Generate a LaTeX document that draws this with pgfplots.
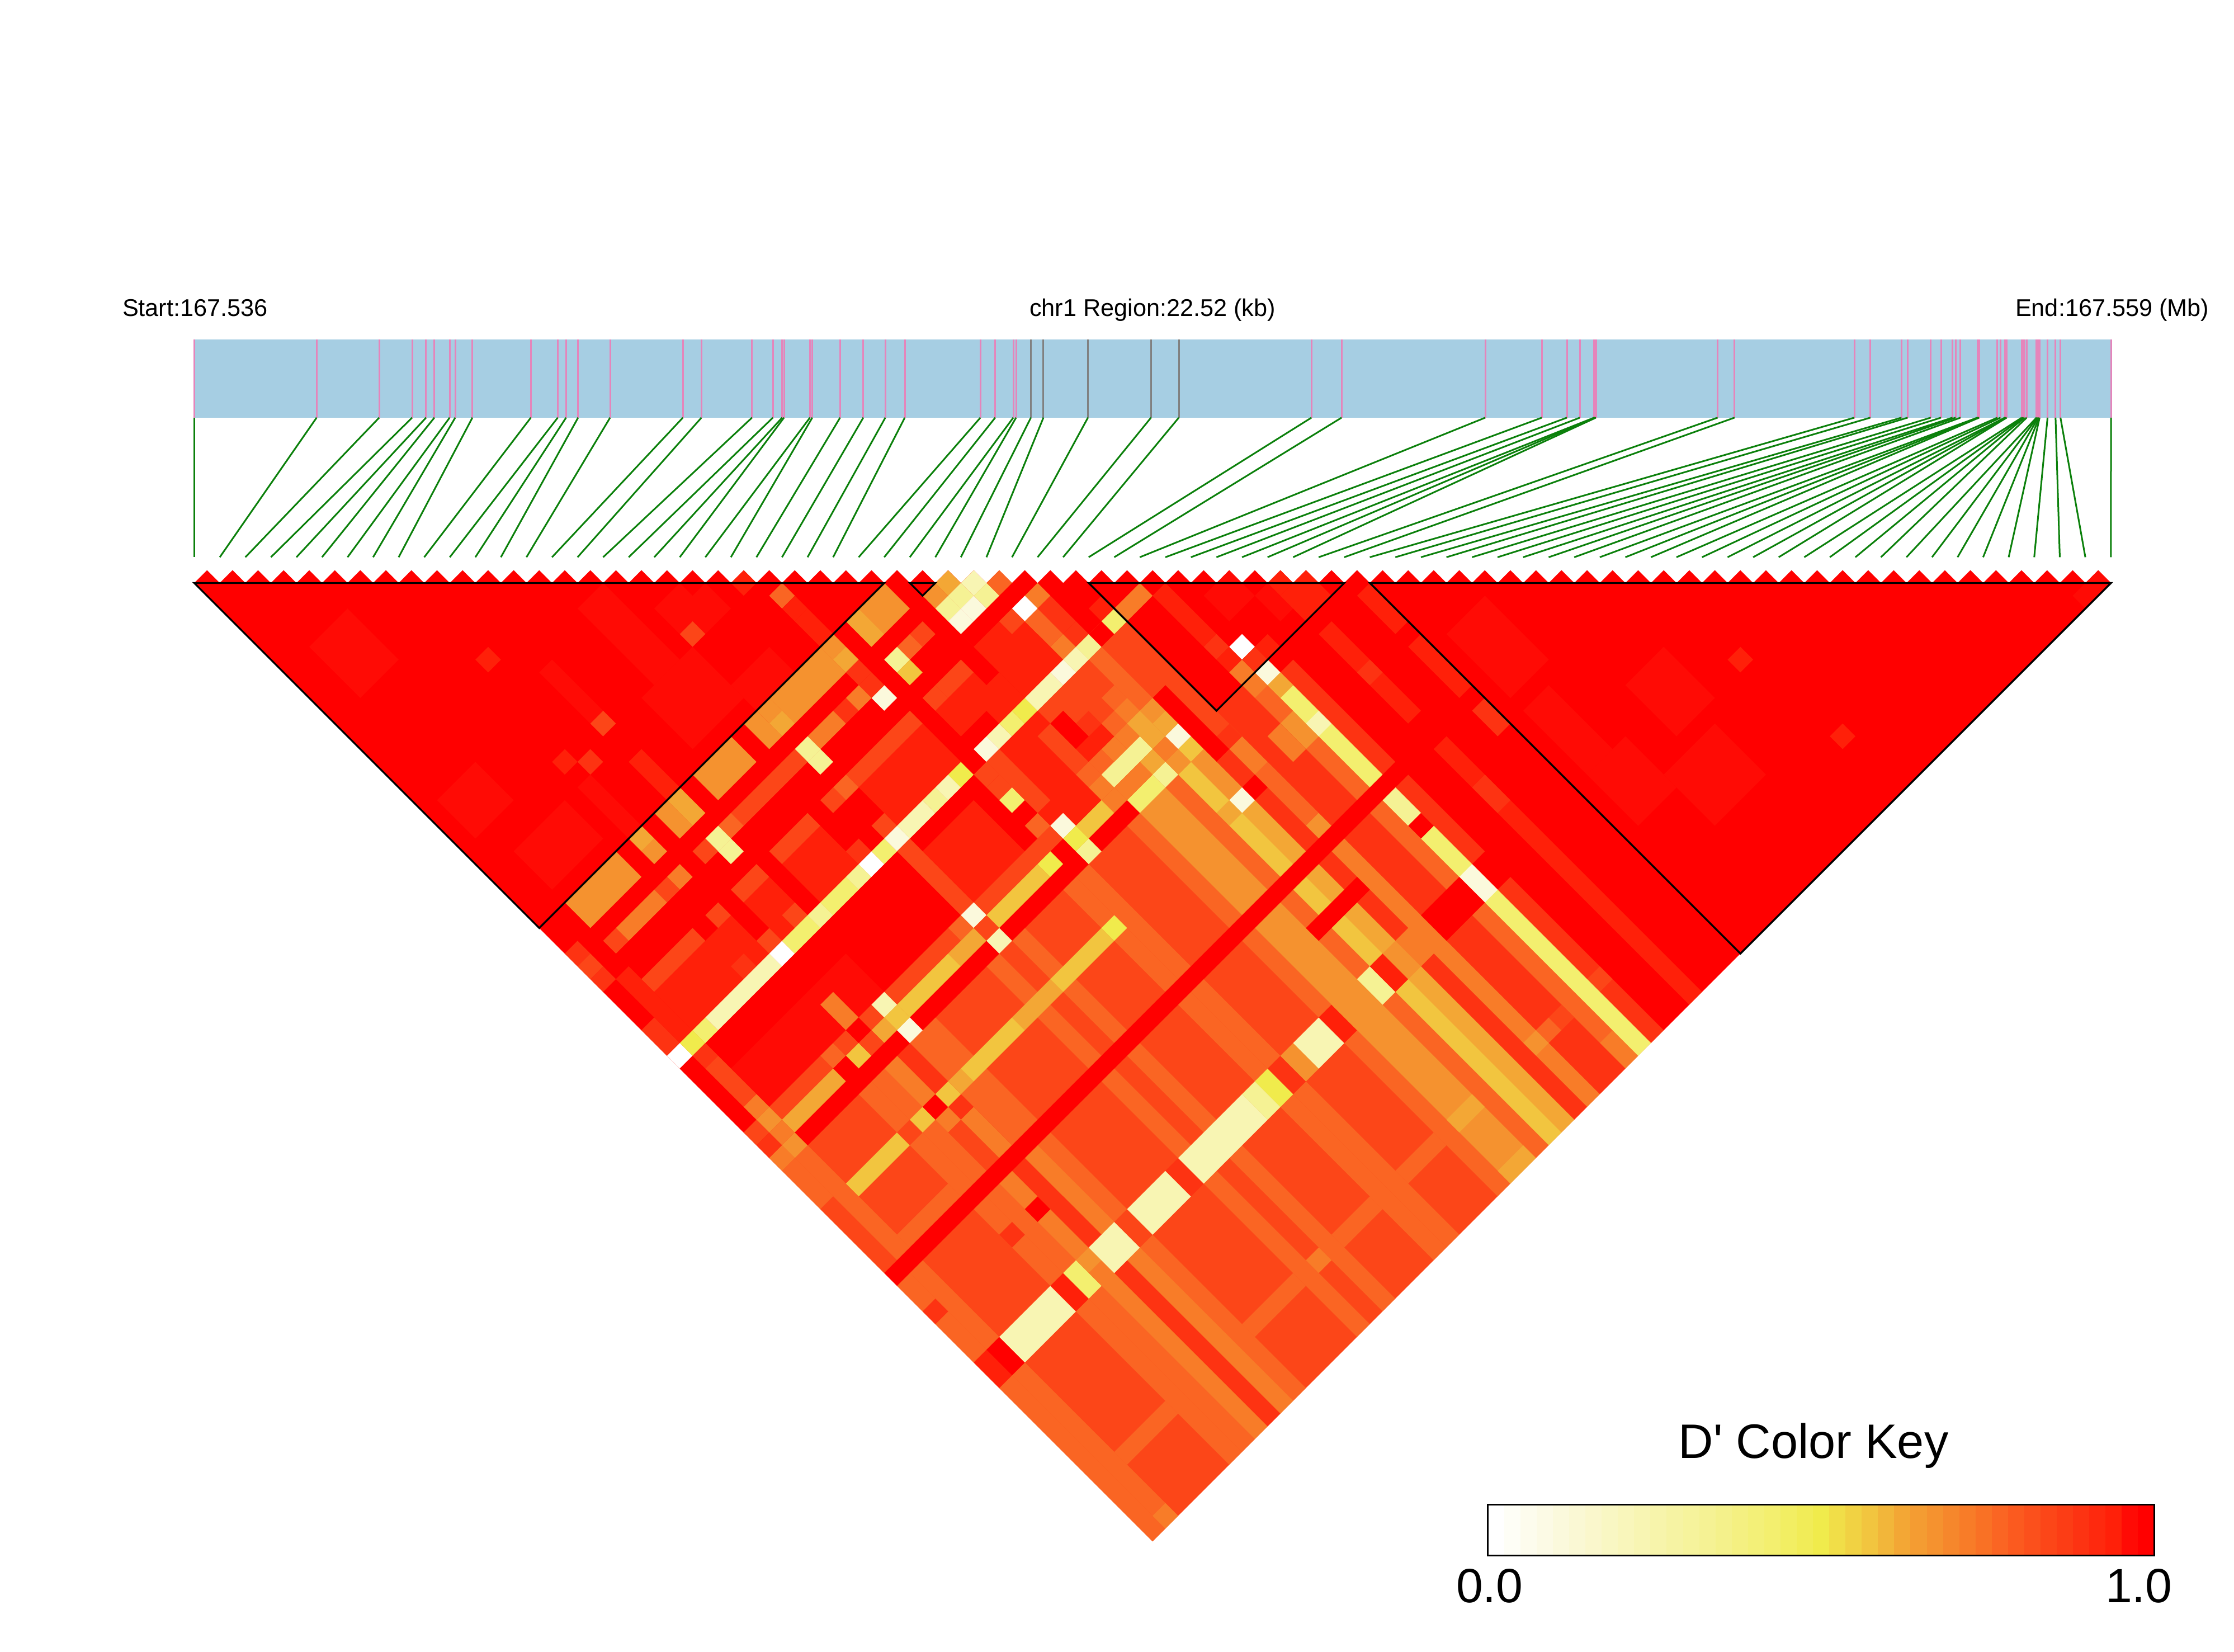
\documentclass[border=0pt]{standalone}
\usepackage{pgfplots}
\pgfplotsset{compat=1.18}
\usepackage{fontspec}
\setmainfont{Liberation Sans}[Ligatures=TeXOff]
\definecolor{Ca}{HTML}{FF0000}\definecolor{Cb}{HTML}{FF0B05}\definecolor{Cc}{HTML}{FF2009}
\definecolor{Cd}{HTML}{FD3312}\definecolor{Ce}{HTML}{FC4618}\definecolor{Cf}{HTML}{FA6523}
\definecolor{Cg}{HTML}{F87C28}\definecolor{Ch}{HTML}{F5922F}\definecolor{Ci}{HTML}{F3A735}
\definecolor{Cj}{HTML}{F2C53F}\definecolor{Ck}{HTML}{F0EB4C}\definecolor{Cl}{HTML}{F3EF6F}
\definecolor{Cm}{HTML}{F5F294}\definecolor{Cn}{HTML}{F8F5B3}\definecolor{Co}{HTML}{FBF9DC}
\definecolor{Cp}{HTML}{FFFFFF}
\definecolor{band}{HTML}{A6CEE3}\definecolor{pinkt}{HTML}{E585BB}\definecolor{greyt}{HTML}{808080}\definecolor{greent}{HTML}{0B800B}
% rectangle of LD cells: i1 i2 j1 j2 colour
\newcommand\Rc[5]{\edef\tmp{\noexpand\addplot[fill=C#5,draw=none] coordinates {(\the\numexpr#2+#3\relax,\the\numexpr#3-#2-1\relax)(\the\numexpr#2+#4+1\relax,\the\numexpr#4-#2\relax)(\the\numexpr#1+#4\relax,\the\numexpr#4-#1+1\relax)(\the\numexpr#1+#3-1\relax,\the\numexpr#3-#1\relax)} -- cycle;}\tmp}
\newcommand\Ce[3]{\Rc{#1}{#1}{#2}{#2}{#3}}
\newcommand\Tr[3]{\edef\tmp{\noexpand\addplot[fill=C#3,draw=none] coordinates {(\the\numexpr2*#1\relax,1)(\the\numexpr2*#2\relax,1)(\the\numexpr#1+#2\relax,\the\numexpr#2-#1+1\relax)} -- cycle;}\tmp}
\newcommand\Bk[2]{\edef\tmp{\noexpand\addplot[black,line width=0.65pt,line join=miter] coordinates {(\the\numexpr2*#1\relax,1)(\the\numexpr2*#2\relax,1)(\the\numexpr#1+#2\relax,\the\numexpr#2-#1+1\relax)} -- cycle;}\tmp}
\newcommand\Sn[3]{\pgfmathsetmacro\tx{347.3+45.7*#3}\edef\tmp{\noexpand\addplot[#1,line width=0.6pt] coordinates {(#2,607.5)(#2,746.8)};\noexpand\addplot[greent,line width=0.6pt] coordinates {(#2,746.8)(\tx,996.4)};}\tmp}
\newcommand\Ke[2]{\pgfmathsetmacro\xa{2660.6+29.07*#1}\pgfmathsetmacro\xb{2660.6+29.07*(#1+1)}\edef\tmp{\noexpand\addplot[fill=#2,draw=none] coordinates {(\xa,2690.7)(\xb,2690.7)(\xb,2781)(\xa,2781)} -- cycle;}\tmp}
\begin{document}
\begin{tikzpicture}[x=1pt,y=1pt]
\path[use as bounding box] (0,0) rectangle (799pt,590.6pt);
\begin{axis}[at={(0,0)},anchor=south west,scale only axis,width=799pt,height=590.6pt,hide axis,
 xmin=-15.199,xmax=159.63,ymin=-44.62,ymax=84.61,y dir=reverse,clip=false]
\Tr{0}{75}{e}
\pgfplotsinvokeforeach{0,...,74}{\pgfmathtruncatemacro\qq{#1+1}\Rc{#1}{#1}{\qq}{\qq}{a}}
\Tr{0}{27}{a}\Rc{0}{27}{28}{46}{a}\Tr{28}{37}{a}\Tr{35}{45}{a}\Rc{28}{34}{38}{46}{e}\Tr{46}{75}{a}\Rc{39}{45}{46}{75}{a}
\Ce{29}{30}{i}\Ce{30}{31}{n}\Ce{31}{32}{f}\Ce{42}{43}{c}
% block 1 patches
\Rc{14}{15}{17}{22}{b}\Rc{17}{18}{20}{21}{b}\Rc{18}{19}{21}{22}{b}\Rc{2}{5}{24}{26}{b}\Rc{13}{16}{23}{26}{b}\Rc{17}{19}{26}{27}{b}
\Rc{10}{10}{18}{21}{b}\Rc{10}{10}{25}{27}{c}\Rc{7}{7}{24}{27}{b}\Rc{1}{3}{19}{21}{b}\Rc{2}{4}{8}{11}{b}\Ce{8}{15}{c}
\Ce{22}{24}{f}\Ce{22}{25}{c}\Ce{17}{22}{e}\Ce{21}{22}{c}\Rc{22}{22}{26}{27}{c}\Ce{10}{22}{e}\Ce{8}{23}{d}\Ce{7}{22}{c}
% block 4 patches
\Rc{47}{49}{52}{56}{b}\Rc{47}{48}{58}{62}{b}\Rc{52}{54}{61}{64}{b}\Ce{57}{64}{c}\Ce{58}{71}{c}\Rc{47}{49}{63}{66}{b}\Rc{50}{53}{66}{69}{b}\Rc{73}{74}{75}{75}{b}
% block 3 patches
\Rc{37}{37}{39}{42}{c}\Ce{37}{43}{d}\Ce{37}{44}{c}\Ce{37}{45}{g}\Ce{38}{44}{p}\Ce{38}{45}{d}\Ce{39}{45}{c}\Rc{41}{41}{43}{44}{b}\Rc{42}{43}{44}{45}{c}\Rc{39}{40}{41}{42}{b}
% lower-right stripes on i
\Rc{39}{39}{47}{54}{d}\Rc{39}{39}{56}{61}{d}\Rc{39}{39}{64}{75}{d}\Ce{39}{71}{e}
\Rc{42}{42}{47}{53}{c}\Ce{42}{50}{d}\Rc{42}{42}{56}{75}{c}\Rc{42}{42}{59}{60}{d}\Rc{45}{45}{47}{49}{c}\Rc{45}{45}{51}{54}{c}\Rc{45}{45}{56}{57}{d}
\Rc{37}{37}{46}{75}{f}\Ce{37}{46}{g}\Rc{37}{37}{49}{50}{h}\Rc{37}{37}{74}{75}{g}
\Rc{35}{36}{46}{75}{d}\Rc{36}{36}{49}{50}{g}\Ce{35}{71}{f}\Ce{36}{71}{e}
\Rc{34}{34}{47}{75}{g}\Ce{34}{47}{d}\Rc{34}{34}{50}{53}{f}\Ce{34}{54}{h}\Ce{34}{71}{h}
\Rc{33}{33}{43}{47}{a}\Rc{33}{33}{48}{75}{d}\Ce{33}{50}{a}
\Rc{32}{32}{47}{75}{i}\Rc{32}{32}{39}{42}{f}\Ce{32}{43}{h}\Ce{32}{44}{i}\Ce{32}{45}{o}\Ce{32}{46}{j}\Rc{32}{32}{47}{49}{h}\Ce{32}{50}{o}
\Rc{31}{31}{47}{75}{j}\Rc{31}{31}{35}{36}{f}\Ce{31}{37}{g}\Rc{31}{31}{39}{40}{e}\Ce{31}{41}{f}\Ce{31}{42}{g}\Rc{31}{31}{43}{44}{i}\Ce{31}{45}{g}\Ce{31}{46}{h}\Ce{31}{50}{i}
\Rc{30}{30}{47}{75}{f}\Rc{28}{29}{47}{75}{h}\Rc{27}{27}{47}{75}{f}\Rc{23}{23}{47}{75}{f}\Rc{22}{22}{47}{75}{f}
\Rc{18}{18}{47}{75}{f}\Rc{16}{16}{47}{75}{f}\Rc{10}{11}{47}{75}{f}\Rc{10}{10}{56}{75}{g}\Rc{9}{9}{47}{75}{d}\Rc{8}{8}{47}{75}{g}\Rc{7}{7}{47}{75}{f}\Rc{6}{6}{47}{75}{f}\Rc{1}{1}{47}{75}{f}\Rc{0}{0}{47}{75}{f}\Rc{0}{0}{50}{54}{e}
\Rc{9}{9}{52}{54}{g}\Rc{8}{8}{52}{54}{e}\Ce{0}{58}{d}\Ce{6}{58}{d}\Ce{8}{58}{a}\Rc{9}{9}{59}{61}{d}\Rc{2}{5}{54}{54}{f}
\Rc{2}{5}{71}{71}{f}\Rc{12}{15}{71}{71}{f}\Rc{19}{21}{71}{71}{f}\Rc{24}{26}{71}{71}{f}\Rc{28}{29}{71}{71}{i}\Ce{17}{71}{g}\Ce{1}{75}{g}
\Rc{28}{29}{75}{75}{i}
% i=38
\Rc{38}{38}{47}{75}{l}\Ce{38}{46}{o}\Ce{38}{47}{i}\Ce{38}{50}{n}\Rc{38}{38}{56}{57}{m}\Ce{38}{58}{a}\Rc{38}{38}{62}{63}{o}
% upper centre
\Rc{28}{30}{34}{37}{c}\Ce{28}{30}{h}\Ce{29}{31}{m}\Ce{30}{32}{m}\Ce{28}{31}{m}\Ce{29}{32}{o}\Ce{28}{32}{o}\Ce{32}{34}{g}\Ce{31}{34}{p}\Ce{30}{34}{e}\Ce{31}{35}{f}\Rc{32}{32}{35}{36}{d}\Ce{32}{37}{d}\Ce{34}{37}{c}
% j=28,29
\Rc{25}{26}{28}{29}{h}\Rc{24}{24}{28}{29}{i}\Ce{22}{28}{h}\Ce{22}{29}{i}\Rc{18}{21}{28}{29}{h}\Ce{17}{28}{h}\Ce{17}{29}{i}\Rc{16}{16}{28}{29}{h}\Rc{12}{14}{28}{29}{h}\Rc{10}{10}{28}{29}{i}\Rc{9}{9}{28}{29}{h}\Ce{7}{28}{i}\Ce{7}{29}{h}\Rc{2}{5}{28}{29}{h}
% j=30..37 left band
\Ce{26}{31}{e}\Ce{25}{31}{f}\Ce{24}{31}{m}\Ce{24}{32}{j}\Ce{22}{32}{o}\Ce{22}{30}{d}\Ce{22}{31}{d}\Ce{21}{31}{g}\Ce{20}{31}{d}\Rc{18}{19}{31}{31}{g}\Ce{17}{31}{m}\Ce{17}{32}{m}\Rc{12}{16}{31}{31}{e}\Ce{11}{31}{f}\Ce{10}{31}{m}\Ce{10}{32}{m}\Ce{9}{31}{e}\Ce{7}{31}{g}\Ce{6}{31}{e}\Rc{3}{5}{31}{31}{g}\Ce{2}{31}{e}
\Ce{0}{30}{d}\Ce{0}{31}{e}\Ce{0}{32}{d}\Rc{0}{0}{36}{37}{d}\Rc{1}{1}{33}{37}{c}
\Rc{2}{5}{34}{34}{e}\Rc{2}{7}{35}{37}{c}\Ce{7}{34}{e}\Ce{6}{37}{d}\Rc{9}{10}{34}{34}{e}\Rc{9}{10}{35}{37}{c}\Ce{10}{37}{e}\Ce{8}{37}{e}\Rc{12}{14}{34}{34}{e}\Rc{12}{14}{35}{37}{c}\Ce{15}{37}{d}\Ce{17}{37}{e}\Rc{18}{22}{34}{34}{e}\Ce{17}{34}{f}\Ce{16}{34}{e}\Rc{18}{22}{35}{37}{c}
\Ce{24}{34}{e}\Rc{25}{26}{34}{34}{e}\Rc{24}{26}{35}{36}{c}\Rc{26}{27}{36}{37}{c}
% j=38 stripe
\Ce{0}{38}{p}\Ce{1}{38}{k}\Ce{2}{38}{l}\Rc{3}{7}{38}{38}{n}\Ce{8}{38}{p}\Rc{9}{10}{38}{38}{l}\Ce{11}{38}{m}\Rc{12}{13}{38}{38}{l}\Ce{14}{38}{m}\Ce{15}{38}{p}\Ce{16}{38}{l}\Ce{17}{38}{o}\Rc{18}{19}{38}{38}{n}\Ce{20}{38}{m}\Ce{21}{38}{n}\Ce{22}{38}{k}\Ce{23}{38}{a}\Ce{24}{38}{o}\Ce{25}{38}{n}\Ce{26}{38}{l}\Ce{27}{38}{k}\Rc{28}{29}{38}{38}{n}\Ce{30}{38}{o}\Ce{31}{38}{n}\Ce{32}{38}{m}\Ce{33}{38}{a}\Ce{34}{38}{l}\Rc{35}{36}{38}{38}{g}
% j=39..46 left band
\Rc{2}{10}{41}{43}{b}\Rc{8}{8}{42}{43}{g}\Rc{11}{16}{40}{43}{a}\Rc{17}{17}{39}{43}{e}\Rc{18}{21}{40}{43}{c}\Rc{18}{23}{44}{44}{e}\Rc{11}{15}{44}{44}{e}\Rc{2}{5}{44}{44}{e}
\Rc{0}{0}{39}{43}{a}\Ce{1}{39}{d}\Rc{1}{1}{40}{42}{e}\Ce{1}{43}{g}\Ce{1}{44}{h}\Ce{1}{45}{g}\Ce{1}{46}{h}\Ce{0}{44}{e}\Ce{0}{45}{d}\Ce{0}{46}{g}
\Rc{24}{27}{39}{44}{c}\Rc{27}{27}{40}{42}{e}\Ce{27}{43}{f}\Ce{27}{44}{g}\Ce{27}{45}{g}\Rc{24}{24}{39}{42}{e}\Ce{23}{39}{e}\Ce{23}{40}{e}\Ce{23}{41}{l}\Ce{23}{42}{a}\Ce{23}{43}{f}
\Ce{6}{44}{f}\Ce{7}{44}{e}\Ce{8}{44}{a}\Ce{9}{44}{e}\Ce{7}{45}{j}\Ce{9}{45}{i}\Ce{10}{45}{j}\Ce{8}{45}{e}\Ce{6}{45}{a}\Ce{10}{44}{n}\Ce{16}{44}{f}\Ce{17}{44}{o}\Ce{24}{44}{o}\Ce{24}{45}{k}
\Rc{2}{5}{45}{45}{i}\Rc{11}{14}{45}{45}{j}\Rc{15}{16}{45}{45}{i}\Rc{17}{21}{45}{45}{j}\Ce{22}{45}{k}\Rc{25}{26}{45}{45}{j}\Ce{17}{45}{e}
% i=28..33, j=39..46
\Rc{28}{28}{40}{41}{a}\Ce{28}{42}{c}\Ce{28}{43}{f}\Rc{28}{30}{44}{44}{m}\Ce{29}{43}{g}\Ce{29}{42}{c}\Ce{29}{41}{d}\Rc{30}{30}{40}{41}{e}\Ce{30}{42}{f}\Ce{30}{43}{g}\Ce{30}{45}{i}\Ce{30}{46}{m}\Rc{28}{29}{46}{46}{l}\Rc{28}{29}{45}{45}{g}
% j=50
\Rc{2}{5}{50}{50}{j}\Ce{6}{50}{e}\Ce{7}{50}{j}\Ce{8}{50}{a}\Ce{9}{50}{j}\Ce{10}{50}{i}\Rc{11}{14}{50}{50}{j}\Rc{15}{17}{50}{50}{i}\Rc{18}{21}{50}{50}{j}\Ce{22}{50}{k}
% j=62,63
\Rc{0}{0}{62}{63}{c}\Rc{1}{1}{62}{63}{a}\Rc{2}{5}{62}{63}{n}\Rc{6}{6}{62}{63}{c}\Rc{7}{7}{62}{63}{l}\Ce{8}{62}{h}\Ce{8}{63}{g}\Rc{9}{10}{62}{63}{n}\Rc{11}{11}{62}{63}{e}\Rc{12}{14}{62}{63}{n}\Rc{15}{15}{62}{63}{d}\Rc{16}{20}{62}{63}{n}\Rc{21}{21}{62}{63}{m}\Rc{22}{22}{62}{63}{k}\Rc{23}{23}{62}{63}{d}\Rc{24}{24}{62}{63}{h}\Rc{25}{26}{62}{63}{n}\Rc{27}{27}{62}{63}{c}\Rc{28}{29}{62}{63}{h}\Rc{30}{30}{62}{63}{m}\Rc{31}{31}{62}{63}{c}\Rc{32}{32}{62}{63}{h}\Rc{33}{34}{62}{63}{g}\Rc{35}{37}{62}{63}{a}
% red stripes
\Rc{0}{39}{55}{55}{a}\Rc{2}{9}{46}{46}{a}\Rc{11}{16}{46}{46}{a}\Rc{18}{23}{46}{46}{a}\Rc{25}{27}{46}{46}{a}\Ce{10}{46}{o}\Ce{17}{46}{n}\Ce{24}{46}{m}
\Rc{30}{33}{58}{58}{a}
\Bk{0}{27}\Bk{28}{29}\Bk{35}{45}\Bk{46}{75}
\end{axis}
\begin{axis}[at={(0,0)},anchor=south west,scale only axis,width=799pt,height=590.6pt,hide axis,
 xmin=0,xmax=3995,ymin=0,ymax=2953,y dir=reverse,clip=false]
\addplot[fill=band,draw=none] coordinates {(347.3,607.5)(3775,607.5)(3775,746.8)(347.3,746.8)} -- cycle;
\Sn{pinkt}{347.3}{0}\Sn{pinkt}{566.2}{1}\Sn{pinkt}{678.1}{2}\Sn{pinkt}{737}{3}\Sn{pinkt}{761.9}{4}\Sn{pinkt}{776.8}{5}\Sn{pinkt}{804.1}{6}\Sn{pinkt}{814.1}{7}\Sn{pinkt}{844.8}{8}\Sn{pinkt}{949.3}{9}\Sn{pinkt}{997.4}{10}\Sn{pinkt}{1012.3}{11}\Sn{pinkt}{1033.8}{12}\Sn{pinkt}{1091}{13}\Sn{pinkt}{1221.2}{14}\Sn{pinkt}{1254.4}{15}\Sn{pinkt}{1344.8}{16}\Sn{pinkt}{1382.1}{17}\Sn{pinkt}{1398.7}{18}\Sn{pinkt}{1402}{19}\Sn{pinkt}{1448.4}{20}\Sn{pinkt}{1452.6}{21}\Sn{pinkt}{1502.3}{22}\Sn{pinkt}{1543.8}{23}
\Sn{pinkt}{1583.2}{24}\Sn{pinkt}{1618}{25}\Sn{pinkt}{1753.2}{26}\Sn{pinkt}{1779.7}{27}\Sn{pinkt}{1812}{28}\Sn{pinkt}{1817}{29}\Sn{greyt}{1843.5}{30}\Sn{greyt}{1865.9}{31}\Sn{greyt}{1945.5}{32}\Sn{greyt}{2058.3}{33}\Sn{greyt}{2108}{34}\Sn{pinkt}{2345.2}{35}\Sn{pinkt}{2399.1}{36}\Sn{pinkt}{2656.1}{37}\Sn{pinkt}{2757.3}{38}\Sn{pinkt}{2802.1}{39}\Sn{pinkt}{2825.3}{40}
\Sn{pinkt}{2850.8}{41}\Sn{pinkt}{2852.4}{42}\Sn{pinkt}{2854}{43}\Sn{pinkt}{3071.6}{44}\Sn{pinkt}{3101.8}{45}\Sn{pinkt}{3316.1}{46}\Sn{pinkt}{3344.7}{47}\Sn{pinkt}{3400.3}{48}\Sn{pinkt}{3411.4}{49}\Sn{pinkt}{3452.7}{50}\Sn{pinkt}{3471}{51}\Sn{pinkt}{3491.6}{52}\Sn{pinkt}{3497.2}{53}\Sn{pinkt}{3505.9}{54}\Sn{pinkt}{3536.1}{55}\Sn{pinkt}{3537.7}{56}\Sn{pinkt}{3539.3}{57}\Sn{pinkt}{3571.8}{58}\Sn{pinkt}{3577.4}{59}\Sn{pinkt}{3585.3}{60}\Sn{pinkt}{3586.9}{61}\Sn{pinkt}{3588.5}{62}\Sn{pinkt}{3615.5}{63}\Sn{pinkt}{3617.9}{64}\Sn{pinkt}{3620.3}{65}\Sn{pinkt}{3624.2}{66}\Sn{pinkt}{3641.7}{67}\Sn{pinkt}{3643.3}{68}\Sn{pinkt}{3644.9}{69}\Sn{pinkt}{3646.4}{70}\Sn{pinkt}{3647.3}{71}\Sn{pinkt}{3661.5}{72}\Sn{pinkt}{3675.8}{73}\Sn{pinkt}{3684.6}{74}\Sn{pinkt}{3775}{75}
% colour key
\Ke{0}{Cp}\Ke{1}{Cp!75!Co}\Ke{2}{Cp!50!Co}\Ke{3}{Cp!25!Co}\Ke{4}{Co}\Ke{5}{Co!80!Cn}\Ke{6}{Co!60!Cn}\Ke{7}{Co!40!Cn}\Ke{8}{Co!20!Cn}\Ke{9}{Cn}\Ke{10}{Cn!75!Cm}\Ke{11}{Cn!50!Cm}\Ke{12}{Cn!25!Cm}\Ke{13}{Cm}\Ke{14}{Cm!75!Cl}\Ke{15}{Cm!50!Cl}\Ke{16}{Cm!25!Cl}\Ke{17}{Cl}\Ke{18}{Cl!66!Ck}\Ke{19}{Cl!33!Ck}\Ke{20}{Ck}\Ke{21}{Ck!66!Cj}\Ke{22}{Ck!33!Cj}\Ke{23}{Cj}\Ke{24}{Cj!50!Ci}\Ke{25}{Ci}\Ke{26}{Ci!50!Ch}\Ke{27}{Ch}\Ke{28}{Ch!50!Cg}\Ke{29}{Cg}\Ke{30}{Cg!50!Cf}\Ke{31}{Cf}\Ke{32}{Cf!66!Ce}\Ke{33}{Cf!33!Ce}\Ke{34}{Ce}\Ke{35}{Ce!50!Cd}\Ke{36}{Cd}\Ke{37}{Cd!50!Cc}\Ke{38}{Cc}\Ke{39}{Cb}\Ke{40}{Ca}
\addplot[black,line width=0.6pt] coordinates {(2660.6,2690.7)(3852.3,2690.7)(3852.3,2781)(2660.6,2781)} -- cycle;
\node[anchor=base west,inner sep=0pt,font=\fontsize{8.65}{10}\selectfont] at (axis cs:218,566) {Start:167.536};
\node[anchor=base west,inner sep=0pt,font=\fontsize{8.65}{10}\selectfont] at (axis cs:1840,566) {chr1 Region:22.52 (kb)};
\node[anchor=base west,inner sep=0pt,font=\fontsize{8.65}{10}\selectfont] at (axis cs:3603,566) {End:167.559 (Mb)};
\node[anchor=base,inner sep=0pt,font=\fontsize{17.3}{20}\selectfont] at (axis cs:3243,2607) {D' Color Key};
\node[anchor=base west,inner sep=0pt,font=\fontsize{17.2}{20}\selectfont] at (axis cs:2603,2865) {0.0};
\node[anchor=base west,inner sep=0pt,font=\fontsize{17.2}{20}\selectfont] at (axis cs:3764,2865) {1.0};
\end{axis}
\end{tikzpicture}
\end{document}
